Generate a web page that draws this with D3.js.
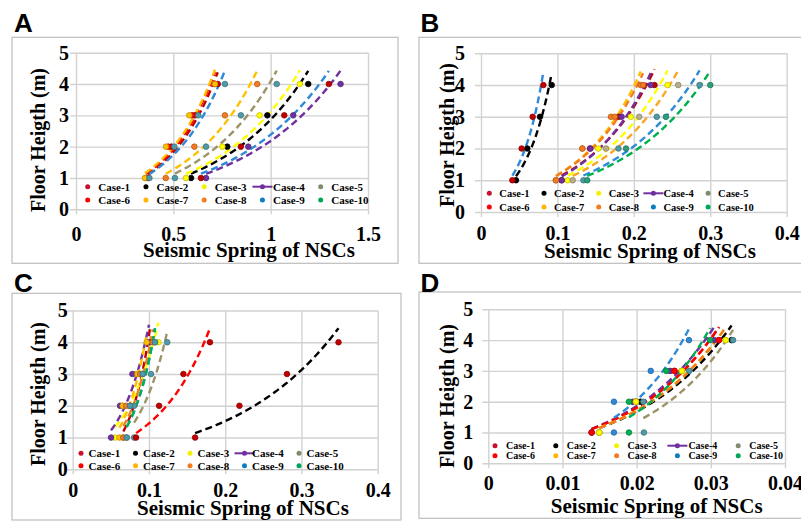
<!DOCTYPE html>
<html>
<head>
<meta charset="utf-8">
<style>
  body { margin: 0; background: #fff; }
  svg { display: block; }
</style>
</head>
<body>
<svg width="801" height="523"></svg>

<script src="https://d3js.org/d3.v7.min.js"></script>
<script>
// ---- data ----
const floors = [1, 2, 3, 4];
const cases = ["Case-1", "Case-2", "Case-3", "Case-4", "Case-5",
               "Case-6", "Case-7", "Case-8", "Case-9", "Case-10"];
const yTicks = [0, 1, 2, 3, 4, 5];
const xTicksA = [0, 0.5, 1, 1.5];
const xTicksB = [0, 0.1, 0.2, 0.3, 0.4];
const xTicksC = [0, 0.1, 0.2, 0.3, 0.4];
const xTicksD = [0, 0.01, 0.02, 0.03, 0.04];

// seismic spring per case, floors 1..4
const springA = [
  [0.370, 0.491, 0.611, 0.728],
  [0.591, 0.777, 0.983, 1.193],
  [0.565, 0.752, 0.943, 1.150],
  [0.668, 0.885, 1.116, 1.359],
  [0.508, 0.668, 0.847, 1.031],
  [0.360, 0.474, 0.597, 0.714],
  [0.354, 0.462, 0.582, 0.714],
  [0.461, 0.608, 0.765, 0.931],
  [0.377, 0.505, 0.628, 0.765],
  [0.642, 0.847, 1.070, 1.299]
];
const springB = [
  [0.1056, 0.1427, 0.180, 0.227],
  [0.0458, 0.0606, 0.0772, 0.0925],
  [0.1134, 0.1536, 0.196, 0.244],
  [0.1056, 0.1430, 0.184, 0.222],
  [0.120, 0.1636, 0.207, 0.258],
  [0.041, 0.0532, 0.0676, 0.0816],
  [0.098, 0.1326, 0.170, 0.209],
  [0.098, 0.1326, 0.175, 0.212],
  [0.134, 0.1798, 0.230, 0.286],
  [0.139, 0.1898, 0.242, 0.300]
];
const springC = [
  [0.0664, 0.0752, 0.0883, 0.1014],
  [0.1605, 0.2187, 0.281, 0.3486],
  [0.0555, 0.0656, 0.0818, 0.1124],
  [0.0503, 0.0621, 0.0783, 0.100],
  [0.0805, 0.0805, 0.1027, 0.124],
  [0.0831, 0.1133, 0.1452, 0.180],
  [0.0612, 0.0656, 0.0848, 0.097],
  [0.0664, 0.070, 0.0883, 0.105],
  [0.0709, 0.0752, 0.0918, 0.108],
  [0.0709, 0.0752, 0.0918, 0.108]
];
const springD = [
  [0.01393, 0.0199, 0.0251, 0.0311],
  [0.01496, 0.0205, 0.0261, 0.0328],
  [0.01496, 0.0199, 0.0261, 0.0320],
  [0.01393, 0.0195, 0.0245, 0.0305],
  [0.02098, 0.0209, 0.0271, 0.0330],
  [0.01393, 0.0199, 0.0251, 0.0311],
  [0.01496, 0.0199, 0.0261, 0.0320],
  [0.01496, 0.0199, 0.0261, 0.0320],
  [0.01694, 0.01694, 0.0219, 0.02705],
  [0.01896, 0.01896, 0.0240, 0.0299]
];

// ---- colours ----
const c = {
  darkred: "#c00000", black: "#000000", yellow: "#ffff00", purple: "#7030a0",
  olive: "#9c9468", red: "#ff0000", gold: "#ffc000", orange: "#f47b20",
  blue: "#2e8ad8", green: "#00b050", teal: "#4f9aa8", grayg: "#b8ae8c", tgreen: "#2a9d7a"
};
const legendColors = ["#c8102e", "#000000", "#f2f200", "#7030a0", "#7f8c6f",
                      "#ff0000", "#ffb400", "#f47b20", "#0b7dc1", "#00a65a"];

const gridColor = "#d2d2d2";
const serif = "'Liberation Serif', 'Times New Roman', serif";

let svg = d3.select("svg");

let panels = [
  { letter: "A", data: springA, xmax: 1.5, xticks: xTicksA,
    dots: [c.darkred, c.black, c.yellow, c.purple, c.teal, c.red, c.gold, c.orange, c.teal, c.darkred],
    lines: [c.darkred, c.black, c.yellow, c.purple, c.olive, c.red, c.gold, c.gold, c.blue, c.blue],
    box: [12, 37.3, 386, 226], x0: 76, x1: 368, y0: 209.3, y5: 52.7,
    lx: 14, ly: 32, ytx: 38.3, yty: 140, xtx: 249, xty: 257, xBase: 241, yGap: 7,
    lg: { x: 87.7, dx: 58.25, y1: 186.7, y2: 200, tx: 10.6, fs: 11 } },
  { letter: "B", data: springB, xmax: 0.4, xticks: xTicksB,
    dots: [c.darkred, c.black, c.yellow, c.purple, c.grayg, c.darkred, c.orange, c.orange, c.teal, c.tgreen],
    lines: [c.darkred, c.black, c.yellow, c.purple, "#f9a825", c.blue, c.gold, c.orange, c.blue, c.green],
    box: [419, 37.3, 390, 226], x0: 481, x1: 786.7, y0: 212, y5: 53.3,
    lx: 420.5, ly: 32, ytx: 446.7, yty: 135, xtx: 650, xty: 258, xBase: 240, yGap: 16,
    lg: { x: 489.3, dx: 54.7, y1: 193.3, y2: 207, tx: 10, fs: 10.5 } },
  { letter: "C", data: springC, xmax: 0.4, xticks: xTicksC,
    dots: [c.orange, c.darkred, c.yellow, c.purple, c.teal, c.darkred, c.gold, c.orange, c.teal, c.teal],
    lines: [c.darkred, c.black, c.yellow, c.purple, c.olive, c.red, c.gold, c.orange, c.blue, c.green],
    box: [12, 293.3, 389, 226.7], x0: 72.7, x1: 377.7, y0: 469.3, y5: 310.5,
    lx: 14, ly: 292, ytx: 38.3, yty: 394, xtx: 243, xty: 515, xBase: 497, yGap: 5,
    lg: { x: 81, dx: 54.5, y1: 453.3, y2: 465.7, tx: 7.5, fs: 11 } },
  { letter: "D", data: springD, xmax: 0.04, xticks: xTicksD,
    dots: [c.red, c.black, c.yellow, c.purple, c.teal, c.red, c.yellow, c.yellow, c.blue, c.green],
    lines: [c.darkred, c.black, c.yellow, c.purple, c.olive, c.red, c.gold, c.orange, c.blue, c.green],
    box: [419, 292, 390, 226.3], x0: 488.3, x1: 785, y0: 463.3, y5: 309.3,
    lx: 420.5, ly: 292, ytx: 446.7, yty: 396, xtx: 656.7, xty: 513.3, xBase: 490, yGap: 15,
    lg: { x: 495, dx: 60.8, y1: 445.7, y2: 455.7, tx: 11, fs: 10 } }
];

// exponential trendline, like excel: ln(y) = a + b*x
function fitExp(xs, ys) {
  let ly = ys.map(Math.log);
  let mx = d3.mean(xs), my = d3.mean(ly);
  let sxx = d3.sum(xs, d => (d - mx) * (d - mx));
  let sxy = d3.sum(xs, (d, i) => (d - mx) * (ly[i] - my));
  let b = sxy / sxx, a = my - b * mx;
  return x => Math.exp(a + b * x);
}

panels.forEach(drawPanel);

function drawPanel(p) {
  let g = svg.append("g");

  g.append("rect")
    .attr("x", p.box[0]).attr("y", p.box[1])
    .attr("width", p.box[2]).attr("height", p.box[3])
    .attr("fill", "none").attr("stroke", "#bdbdbd").attr("stroke-width", 1.2);

  g.append("text").text(p.letter)
    .attr("x", p.lx).attr("y", p.ly)
    .style("font-family", "'Liberation Sans', Arial, sans-serif")
    .style("font-weight", "bold").style("font-size", "26px");

  let x = d3.scaleLinear().domain([0, p.xmax]).range([p.x0, p.x1]);
  let y = d3.scaleLinear().domain([0, 5]).range([p.y0, p.y5]);

  // vertical grid + x labels
  g.append("g")
    .attr("transform", `translate(0,${p.y0 + 5})`)
    .call(d3.axisBottom(x).tickValues(p.xticks).tickFormat(d3.format(""))
      .tickSize(-(p.y0 - p.y5 + 5)).tickSizeOuter(0))
    .call(a => a.select(".domain").remove())
    .call(a => a.selectAll("line").attr("stroke", gridColor).attr("stroke-width", 1.4))
    .call(a => a.selectAll("text")
      .attr("y", p.xBase - p.y0 - 5).attr("dy", null)
      .attr("fill", "#000")
      .style("font-family", serif).style("font-weight", "bold").style("font-size", "20px"));

  // horizontal grid + y labels
  let ext = 6;
  g.append("g")
    .attr("transform", `translate(${p.x0 - ext},0)`)
    .call(d3.axisLeft(y).tickValues(yTicks).tickFormat(d3.format("d"))
      .tickSize(-(p.x1 - p.x0 + ext)).tickSizeOuter(0).tickPadding(p.yGap - ext))
    .call(a => a.select(".domain").remove())
    .call(a => a.selectAll("line").attr("stroke", gridColor).attr("stroke-width", 1.4))
    .call(a => a.selectAll("text")
      .attr("fill", "#000")
      .style("font-family", serif).style("font-weight", "bold").style("font-size", "20px"));

  // axis titles
  g.append("text").text("Floor Heigth (m)")
    .attr("transform", `translate(${p.ytx},${p.yty}) rotate(-90)`)
    .attr("text-anchor", "middle").attr("dy", "0.35em")
    .style("font-family", serif).style("font-weight", "bold").style("font-size", "20px");

  g.append("text").text("Seismic Spring of NSCs")
    .attr("x", p.xtx).attr("y", p.xty)
    .attr("text-anchor", "middle")
    .style("font-family", serif).style("font-weight", "bold").style("font-size", "21px");

  // trendlines
  let line = d3.line().x(d => x(d[0])).y(d => y(d[1]));
  p.data.forEach((xs, i) => {
    let f = fitExp(xs, floors);
    let lo = d3.min(xs), hi = d3.max(xs);
    let pts = d3.range(0, 41).map(k => {
      let xv = lo + (hi - lo) * k / 40;
      return [xv, f(xv)];
    });
    g.append("path")
      .attr("d", line(pts))
      .attr("fill", "none")
      .attr("stroke", p.lines[i])
      .attr("stroke-width", 2.4)
      .attr("stroke-dasharray", "7,4");
  });

  // points
  p.data.forEach((xs, i) => {
    g.selectAll(null)
      .data(xs.map((v, k) => [v, floors[k]]))
      .join("circle")
      .attr("cx", d => x(d[0]))
      .attr("cy", d => y(d[1]))
      .attr("r", 2.8)
      .attr("fill", p.dots[i])
      .attr("stroke", d3.color(p.dots[i]).darker(0.8))
      .attr("stroke-width", 0.8);
  });

  // legend
  let lg = p.lg;
  cases.forEach((name, i) => {
    let col = i % 5, row = Math.floor(i / 5);
    let mx = lg.x + col * lg.dx;
    let my = row == 0 ? lg.y1 : lg.y2;
    if (i == 3) {
      g.append("line")
        .attr("x1", mx - 10).attr("x2", mx + 10)
        .attr("y1", my).attr("y2", my)
        .attr("stroke", legendColors[i]).attr("stroke-width", 2);
    }
    g.append("circle")
      .attr("cx", mx).attr("cy", my).attr("r", 2.5)
      .attr("fill", legendColors[i]);
    g.append("text").text(name)
      .attr("x", mx + lg.tx).attr("y", my).attr("dy", "0.35em")
      .style("font-family", serif).style("font-weight", "bold")
      .style("font-size", lg.fs + "px");
  });
}
</script>
</body>
</html>
